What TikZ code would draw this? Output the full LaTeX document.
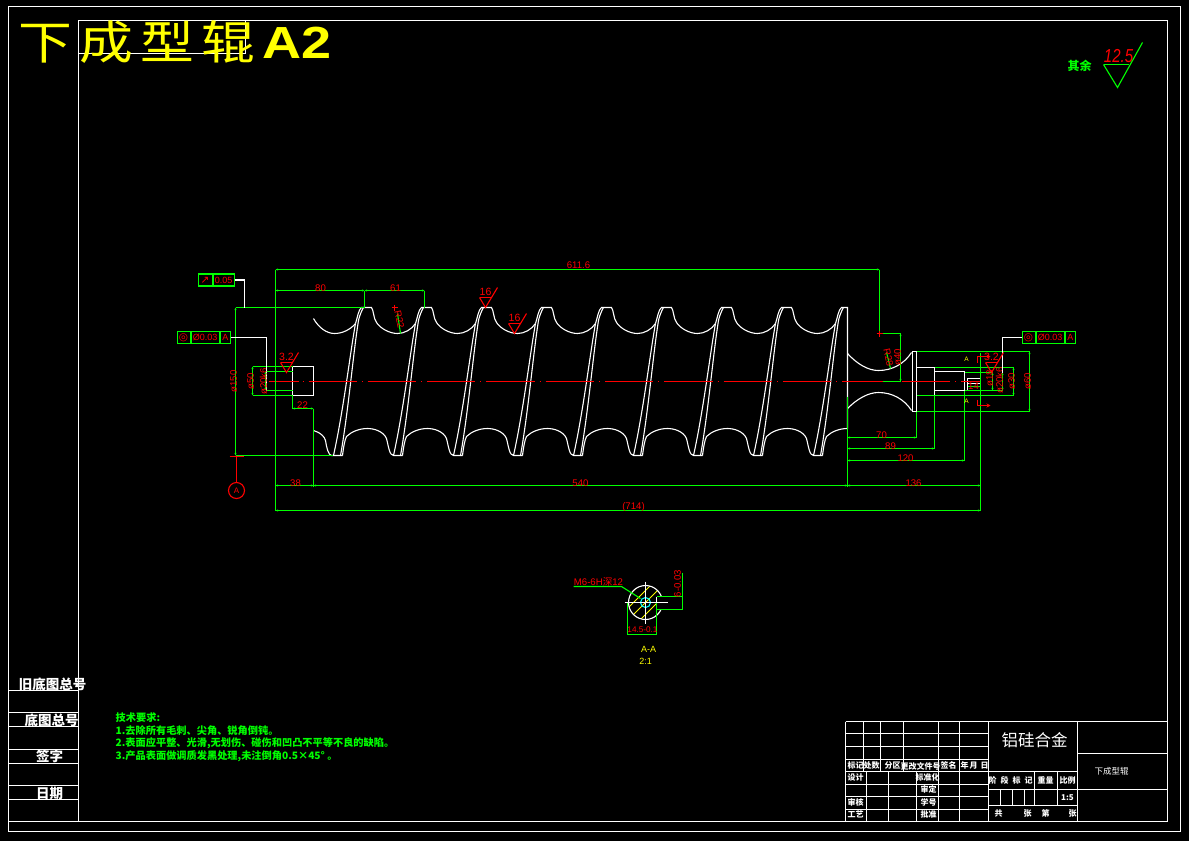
\documentclass[tikz,border=0pt]{standalone}
\usepackage{fontspec}
\setmainfont{Liberation Sans}
\newfontfamily\cjk{Noto Sans CJK SC}
\newfontfamily\headcjk[LetterSpace=13]{Noto Sans CJK SC}
\newfontfamily\symb{DejaVu Sans}
\usetikzlibrary{arrows.meta,positioning}
\definecolor{cadgreen}{RGB}{0,255,0}
\definecolor{cadyellow}{RGB}{255,255,0}
\definecolor{cadcyan}{RGB}{0,255,255}
\tikzset{
    part/.style={draw=white,line width=1.1pt},
    dimline/.style={draw=cadgreen,line width=1.1pt},
    dimarrow/.style={dimline,<->,>={Stealth[length=2.5pt,width=2pt]}},
    redline/.style={draw=red,line width=1.1pt},
    leader/.style={draw=white,line width=1.1pt},
    dimtext/.style={text=red,font=\fontsize{9.6}{10}\selectfont,inner sep=0pt},
    gdtcell/.style={draw=cadgreen,line width=1.1pt,text=red,font=\fontsize{9}{9}\selectfont,
        minimum height=12pt,inner sep=0pt,anchor=west},
    gdtsym/.style={gdtcell,font=\symb\fontsize{10.5}{9}\selectfont},
    blocktext/.style={text=white,font=\cjk\bfseries\fontsize{8}{8}\selectfont,inner sep=0pt},
    sidetext/.style={text=white,font=\cjk\bfseries\fontsize{13.5}{14}\selectfont,inner sep=0pt},
    notetext/.style={text=cadgreen,font=\cjk\bfseries\fontsize{10.2}{11}\selectfont,inner sep=0pt,anchor=west},
    sectiontext/.style={text=cadyellow,font=\fontsize{9}{9}\selectfont,inner sep=0pt},
}
\begin{document}
\begin{tikzpicture}[x=1pt,y=-1pt,shift={(0.5,0.5)}]

    \fill[black] (-0.5,-0.5) rectangle (1188.5,840.5);
    \useasboundingbox (-0.5,-0.5) rectangle (1188.5,840.5);

    % frame
    \draw[part] (8,6) rectangle (1180,831);
    \draw[part] (78,20) rectangle (1167,821);
    \draw[part] (8,821) -- (78,821);
    \draw[part] (78,53) -- (245,53) -- (245,20);
    \foreach \y in {690,712,726,749,763,785,799} \draw[part] (8,\y) -- (78,\y);

    % title and side texts
    \node[text=cadyellow,font=\headcjk\fontsize{46}{46}\selectfont,inner sep=0pt,anchor=west,xscale=1.17] (title) at (18,42) {下成型辊};
    \node[text=cadyellow,font=\bfseries\fontsize{45}{45}\selectfont,inner sep=0pt,anchor=west,xscale=1.2] (titleno) at (262,42) {A2};
    \node[sidetext] (oldno) at (52,684) {旧底图总号};
    \node[sidetext] (baseno) at (51,720) {底图总号};
    \node[sidetext] (sign) at (49,756) {签字};
    \node[sidetext] (date) at (49,793) {日期};

    % surface note top right
    \node[text=cadgreen,font=\cjk\bfseries\fontsize{12}{12}\selectfont,inner sep=0pt] (rest) at (1079,65) {其余};
    \node[text=red,font=\itshape\fontsize{15}{15}\selectfont,inner sep=0pt,yscale=1.25] (restval) at (1118,56) {12.5};
    \draw[dimline] (1103,64) -- (1128,64);
    \draw[dimline] (1103,64) -- (1117,87) -- (1142,42);

    % screw body
    \draw[part] (313,318) .. controls (318,327) and (326,333) .. (334,333)
        .. controls (342,333) and (350,329) .. (355,323);
    \draw[part] (313,430) .. controls (320,432) and (324,436) .. (325,440)
        .. controls (326,447) and (328,455) .. (331,455) -- (342,455);
    \foreach \c in {367,427,487,547,607,667,727,787}{
        \begin{scope}[shift={(\c,0)}]
            \draw[part] (-12,323) .. controls (-10,317) and (-9,309) .. (-6,307) -- (4,307)
                .. controls (6,309) and (6,318) .. (9,322)
                .. controls (13,328) and (22,333) .. (30,333)
                .. controls (37,333) and (44,329) .. (48,323);
            \draw[part] (-25,455) .. controls (-24,447) and (-23,440) .. (-21,436)
                .. controls (-16,431) and (-8,428) .. (0,428)
                .. controls (7,428) and (16,431) .. (19,438)
                .. controls (21,446) and (22,455) .. (26,455) -- (35,455);
        \end{scope}
    }
    \foreach \c in {367,427,487,547,607,667,727,787,847}{
        \begin{scope}[shift={(\c,0)}]
            \draw[part] (-12,323) .. controls (-17,350) and (-24,410) .. (-34,455);
            \draw[part] (-4,307) .. controls (-8,314) and (-9,320) .. (-9,320)
                .. controls (-14,350) and (-19,410) .. (-27,455);
        \end{scope}
    }
    \draw[part] (835,323) .. controls (837,317) and (838,309) .. (841,307) -- (847,307) -- (847,428);
    \draw[part] (822,455) .. controls (823,447) and (824,440) .. (826,436)
        .. controls (831,431) and (839,428) .. (847,428);

    % shafts
    \draw[part] (313,366) rectangle (292,395);
    \draw[part] (292,371) -- (266,371) -- (266,390) -- (292,390);
    \draw[part] (847,353) .. controls (857,364) and (868,370) .. (878,370)
        .. controls (892,370) and (904,363) .. (911,352);
    \draw[part] (847,408) .. controls (857,398) and (868,392) .. (878,392)
        .. controls (892,392) and (904,399) .. (911,410);
    \draw[part] (912,351) rectangle (916,411);
    \draw[part] (916,367) rectangle (934,395);
    \draw[part] (934,371) rectangle (964,390);
    \draw[part] (964,372) rectangle (980,390);
    \draw[part] (980,378) -- (967,378) -- (967,390);
    \draw[part] (967,383) -- (980,383);

    % centre line
    \draw[redline] (268,381) -- (298,381);
    \draw[redline,dash pattern=on 1pt off 5pt on 48.3pt off 5pt] (302,381) -- (980,381);

    % dimensions
    \draw[dimline] (275,269) -- (275,510);
    \draw[dimline] (879,269) -- (879,333) -- (900,333);
    \draw[dimline] (235,307) -- (364,307);
    \draw[dimline] (364,290) -- (364,307);
    \draw[dimline] (424,290) -- (424,307);
    \draw[dimline] (235,455) -- (332,455);
    \draw[dimline] (252,366) -- (292,366);
    \draw[dimline] (252,395) -- (292,395);
    \draw[dimline] (266,371) -- (292,371);
    \draw[dimline] (266,390) -- (292,390);
    \draw[dimline] (292,395) -- (292,408);
    \draw[dimline] (313,408) -- (313,486);
    \draw[dimline] (847,396) -- (847,486);
    \draw[dimline] (980,352) -- (980,510);
    \draw[dimline] (916,411) -- (916,437);
    \draw[dimline] (934,395) -- (934,448);
    \draw[dimline] (964,390) -- (964,460);
    \draw[dimline] (916,351) -- (1029,351);
    \draw[dimline] (916,411) -- (1029,411);
    \draw[dimline] (934,367) -- (1013,367);
    \draw[dimline] (916,395) -- (1013,395);
    \draw[dimline] (964,372) -- (992,372);
    \draw[dimline] (964,390) -- (1002,390);
    \draw[dimline] (967,386) -- (980,386);
    \draw[dimline] (882,381) -- (900,381);
    \draw[dimline] (397,313) -- (400,333);
    \draw[dimline] (886,352) -- (890,368);
    \foreach \xa/\xb/\y in {275/879/269,275/364/290,364/424/290,292/313/408,275/313/485,313/847/485,847/980/485,
        275/980/510,847/916/437,847/934/448,847/964/460}
        \draw[dimarrow] (\xa,\y) -- (\xb,\y);
    \foreach \x/\ya/\yb in {235/307/455,252/366/395,265/371/390,900/333/381,1029/351/411,1013/367/395,992/372/390,1002/372/390}
        \draw[dimarrow] (\x,\ya) -- (\x,\yb);

    \foreach \x/\y/\lab [count=\i] in {578/265/611.6,320/288/80,395/288/61,302/405/22,295/483/38,580/483/540,913/483/136,
        633/507/(714),881/435/70,890/446/89,905/458/120,973/386/14}
        \node[dimtext] (hdim\i) at (\x,\y) {\lab};
    \foreach \x/\y/\lab [count=\i] in {233/381/ø150,250/381/ø50,263/381/ø20k6,897/357/ø40,1027/381/ø60,1011/381/ø30,999/380/ø20k6,989/378/ø18}
        \node[dimtext,rotate=90] (vdim\i) at (\x,\y) {\lab};
    \node[dimtext,rotate=-78] (rone) at (399,319) {R22};
    \node[dimtext,rotate=-78] (rtwo) at (888,357) {R28};
    \draw[redline] (391,307) -- (397,307) (394,304) -- (394,310);
    \draw[redline] (876,333) -- (882,333) (879,330) -- (879,336);

    % datum A
    \draw[redline] (229,456) -- (243,456);
    \node[draw=red,line width=1.1pt,circle,minimum size=16pt,inner sep=0pt,text=red,font=\fontsize{8}{8}\selectfont] (datum) at (236,490) {A};
    \draw[redline] (236,456) -- (datum.north);

    % tolerance frames
    \node[gdtsym,minimum width=14pt] (runa) at (197,279.5) {↗};
    \node[gdtcell,minimum width=21pt,right=0pt of runa] (runb) {0.05};
    \coordinate (runend) at (244,307);
    \draw[leader] (runb.east) -| (runend);
    \node[gdtsym,minimum width=13pt] (coaxa) at (176,337) {◎};
    \node[gdtcell,minimum width=28pt,right=0pt of coaxa] (coaxb) {Ø0.03};
    \node[gdtcell,minimum width=10pt,right=0pt of coaxb] (coaxc) {A};
    \coordinate (coaxend) at (266,370);
    \draw[leader] (coaxc.east) -| (coaxend);
    \node[gdtsym,minimum width=13pt] (rcoaxa) at (1021,337) {◎};
    \node[gdtcell,minimum width=28pt,right=0pt of rcoaxa] (rcoaxb) {Ø0.03};
    \node[gdtcell,minimum width=10pt,right=0pt of rcoaxb] (rcoaxc) {A};
    \coordinate (rcoaxend) at (1002,372);
    \draw[leader] (rcoaxa.west) -| (rcoaxend);

    % roughness marks
    \foreach \x/\y/\lab [count=\i] in {286/372/3.2,485/307/16,514/333/16,991/372/3.2}{
        \begin{scope}[shift={(\x,\y)}]
            \draw[redline] (-6,-10) -- (6,-10);
            \draw[redline] (-6,-10) -- (0,0) -- (12,-20);
            \node[dimtext,font=\fontsize{10.5}{10}\selectfont] (rough\i) at (0,-15.5) {\lab};
        \end{scope}
    }

    % section marks
    \node[sectiontext,font=\fontsize{6.5}{6}\selectfont] (seca) at (966,359) {A};
    \node[sectiontext,font=\fontsize{6.5}{6}\selectfont] (secb) at (966,401) {A};
    \draw[redline,->,>={Stealth[length=4pt,width=4pt]}] (977,362) -- (977,356) -- (990,356);
    \draw[redline,->,>={Stealth[length=4pt,width=4pt]}] (977,399) -- (977,405) -- (990,405);

    % section A-A
    \begin{scope}
        \clip (645,602) circle (17);
        \foreach \d in {-24,-12,0,12,24}
            \draw[draw=cadyellow,line width=0.9pt] ({645+\d-20},622) -- ({645+\d+20},582);
    \end{scope}
    \draw[part] (645,602) circle (17);
    \fill[black] (656.5,596.5) rectangle (664,608);
    \draw[part] (656,596) -- (656,608);
    \draw[draw=cadcyan,line width=1.1pt] (645,602) circle (5);
    \draw[part] (624,602) -- (667,602);
    \draw[part] (645,581) -- (645,623);
    \draw[dimline] (627,602) -- (627,634) -- (656,634) -- (656,602);
    \draw[dimline] (656,596) -- (682,596);
    \draw[dimline] (656,609) -- (682,609);
    \draw[dimline] (682,572) -- (682,609);
    \coordinate (holept) at (640,598);
    \draw[dimline] (573,586) -- (621,586) -- (holept);
    \node[dimtext] (holelab) at (598,581) {M6-6H\cjk 深\rmfamily 12};
    \node[dimtext,font=\fontsize{8.2}{9}\selectfont] (flatlab) at (642,629) {14.5-0.1};
    \node[dimtext,rotate=90] (keylab) at (677,583) {6-0.03};
    \node[sectiontext] (secname) at (648,649) {A-A};
    \node[sectiontext] (secscale) at (645,661) {2:1};

    % notes
    \node[notetext] (note0) at (115,717) {技术要求:};
    \node[notetext] (note1) at (115,730) {1.去除所有毛刺、尖角、锐角倒钝。};
    \node[notetext] (note2) at (115,743) {2.表面应平整、光滑,无划伤、碰伤和凹凸不平等不良的缺陷。};
    \node[notetext] (note3) at (115,756) {3.产品表面做调质发黑处理,未注倒角0.5×45° 。};

    % title block
    \foreach \y in {733,746,759,771,784,796,809} \draw[part] (845,\y) -- (988,\y);
    \foreach \x in {845,863,880,903,938,959} \draw[part] (\x,721) -- (\x,771);
    \foreach \x in {866,888,916,938,959} \draw[part] (\x,771) -- (\x,821);
    \draw[part] (845,721) -- (1167,721);
    \draw[part] (845,721) -- (845,821);
    \draw[part] (988,721) -- (988,821);
    \draw[part] (1077,721) -- (1077,821);
    \draw[part] (988,771) -- (1077,771);
    \draw[part] (988,789) -- (1167,789);
    \draw[part] (988,805) -- (1077,805);
    \draw[part] (1077,753) -- (1167,753);
    \foreach \x in {1034,1057} \draw[part] (\x,771) -- (\x,805);
    \foreach \x in {1000,1012,1024} \draw[part] (\x,789) -- (\x,805);
    \foreach \x/\y/\lab [count=\i] in {855/765/标记,871/765/处数,892/765/分区,920/766/更改文件号,948/765/签名,
        964/765/年,973/765/月,984/765/日,855/777/设计,927/777/标准化,928/789/审定,855/802/审核,928/802/学号,
        855/814/工艺,928/814/批准,992/780/阶,1004/780/段,1016/780/标,1028/780/记,1045/780/重量,1067/780/比例,
        1067/797/1:5,998/813/共,1027/813/张,1045/813/第,1072/813/张}
        \node[blocktext] (blk\i) at (\x,\y) {\lab};
    \node[blocktext,font=\cjk\fontsize{16.5}{17}\selectfont] (material) at (1034,740) {铝硅合金};
    \node[blocktext,font=\cjk\fontsize{8.5}{9}\selectfont] (partname) at (1111,771) {下成型辊};

\end{tikzpicture}
\end{document}
